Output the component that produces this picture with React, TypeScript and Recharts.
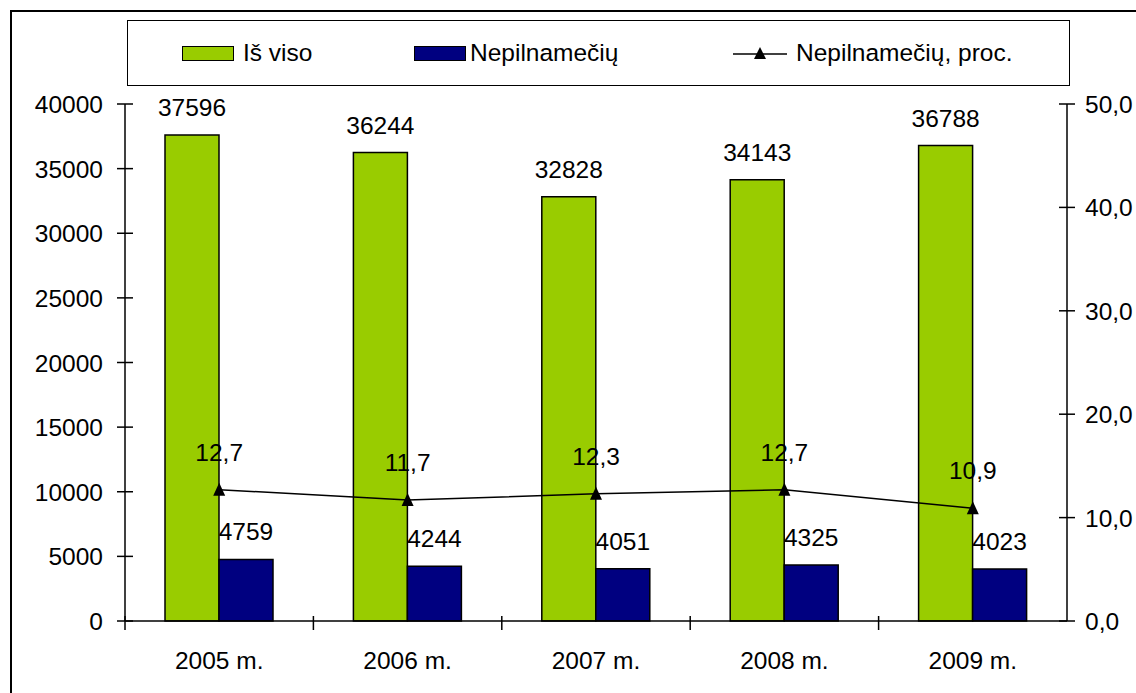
import { Bar, ComposedChart, LabelList, Legend, Line, XAxis, YAxis } from "recharts";

const years = ["2005 m.", "2006 m.", "2007 m.", "2008 m.", "2009 m."];
const totalCases = [37596, 36244, 32828, 34143, 36788];
const minorCases = [4759, 4244, 4051, 4325, 4023];
const minorPercent = [12.7, 11.7, 12.3, 12.7, 10.9];
const leftTicks = [0, 5000, 10000, 15000, 20000, 25000, 30000, 35000, 40000];
const rightTicks = [0, 10, 20, 30, 40, 50];

const data = years.map((year, i) => ({
  year,
  total: totalCases[i],
  minor: minorCases[i],
  pct: minorPercent[i],
}));

const FONT = "'Liberation Sans', Arial, sans-serif";
const FS = 24.5;
const comma = (v: number) => v.toFixed(1).replace(".", ",");

function LeftTick(props: any) {
  const { x, y, payload } = props;
  return (
    <g>
      <line x1={x - 8} x2={x + 8} y1={y} y2={y} stroke="#000" strokeWidth={1.5} />
      <text x={x - 22} y={y} dy={9} textAnchor="end" fontSize={FS} fontFamily={FONT} fill="#000">
        {payload.value}
      </text>
    </g>
  );
}

function RightTick(props: any) {
  const { x, y, payload } = props;
  return (
    <g>
      <line x1={x - 8} x2={x + 8} y1={y} y2={y} stroke="#000" strokeWidth={1.5} />
      <text x={x + 18} y={y} dy={9} textAnchor="start" fontSize={FS} fontFamily={FONT} fill="#000">
        {comma(payload.value)}
      </text>
    </g>
  );
}

function XTick(props: any) {
  const { x, y, payload } = props;
  const half = payload.offset || 94;
  return (
    <g>
      <line x1={x - half} x2={x - half} y1={y - 7} y2={y + 7} stroke="#000" strokeWidth={1.5} />
      <text x={x} y={y + 46} textAnchor="middle" fontSize={FS} fontFamily={FONT} fill="#000">
        {payload.value}
      </text>
    </g>
  );
}

function Triangle(props: any) {
  const { cx, cy } = props;
  if (cx == null || cy == null) return null;
  return <path d={`M${cx},${cy - 7} L${cx + 6},${cy + 6} L${cx - 6},${cy + 6} Z`} fill="#000" />;
}

function BarValue(props: any) {
  const { x, y, width, value } = props;
  return (
    <text x={x + width / 2} y={y - 19} textAnchor="middle" fontSize={FS} fontFamily={FONT} fill="#000">
      {value}
    </text>
  );
}

function PctValue(props: any) {
  const { x, y, value } = props;
  return (
    <text x={x} y={y - 29} textAnchor="middle" fontSize={FS} fontFamily={FONT} fill="#000">
      {comma(value)}
    </text>
  );
}

function LegendBox() {
  const item = { display: "flex", alignItems: "center", position: "absolute" as const, top: 0, height: "100%" };
  const text = { fontSize: FS, fontFamily: FONT, color: "#000", marginLeft: 9, lineHeight: 1 };
  return (
    <div style={{ position: "relative", width: "100%", height: "100%", border: "1.5px solid #000", boxSizing: "border-box", background: "#fff" }}>
      <div style={{ ...item, left: 54 }}>
        <span style={{ width: 52, height: 15, background: "#99CC00", border: "1.5px solid #000", boxSizing: "border-box" }} />
        <span style={text}>Iš viso</span>
      </div>
      <div style={{ ...item, left: 286 }}>
        <span style={{ width: 52, height: 15, background: "#000080", border: "1.5px solid #000", boxSizing: "border-box" }} />
        <span style={{ ...text, marginLeft: 4 }}>Nepilnamečių</span>
      </div>
      <div style={{ ...item, left: 605 }}>
        <svg width={54} height={16}>
          <line x1={0} x2={54} y1={9} y2={9} stroke="#000" strokeWidth={1.5} />
          <path d="M27,2 L33,14 L21,14 Z" fill="#000" />
        </svg>
        <span style={text}>Nepilnamečių, proc.</span>
      </div>
    </div>
  );
}

export default function App() {
  return (
    <div style={{ position: "fixed", left: 0, top: 0, width: 1136, height: 693, background: "#fff", overflow: "hidden" }}>
      <div style={{ position: "absolute", left: 10, top: 10, width: 1200, height: 800, border: "2px solid #000" }} />
      <div style={{ position: "absolute", left: 0, top: 0 }}>
        <ComposedChart
          width={1136}
          height={693}
          data={data}
          margin={{ top: 104, right: 0, bottom: 0, left: 0 }}
          barGap={0}
        >
          <XAxis
            dataKey="year"
            height={72}
            tickSize={0}
            tick={<XTick />}
            axisLine={{ stroke: "#000", strokeWidth: 1.5 }}
            interval={0}
          />
          <YAxis
            yAxisId="left"
            width={125}
            domain={[0, 40000]}
            ticks={leftTicks}
            tickSize={0}
            tickMargin={0}
            tickLine={false}
            tick={<LeftTick />}
            axisLine={{ stroke: "#000", strokeWidth: 1.5 }}
            interval={0}
          />
          <YAxis
            yAxisId="right"
            orientation="right"
            width={69}
            domain={[0, 50]}
            ticks={rightTicks}
            tickSize={0}
            tickMargin={0}
            tickLine={false}
            tick={<RightTick />}
            axisLine={{ stroke: "#000", strokeWidth: 1.5 }}
            interval={0}
          />
          <Legend
            layout="horizontal"
            align="center"
            verticalAlign="middle"
            content={<LegendBox />}
            wrapperStyle={{ left: 127, top: 20, width: 943, height: 66 }}
          />
          <Bar yAxisId="left" dataKey="total" name="Iš viso" fill="#99CC00" stroke="#000" strokeWidth={1.5} barSize={54} isAnimationActive={false}>
            <LabelList dataKey="total" content={<BarValue />} />
          </Bar>
          <Bar yAxisId="left" dataKey="minor" name="Nepilnamečių" fill="#000080" stroke="#000" strokeWidth={1.5} barSize={54} isAnimationActive={false}>
            <LabelList dataKey="minor" content={<BarValue />} />
          </Bar>
          <Line
            yAxisId="right"
            dataKey="pct"
            name="Nepilnamečių, proc."
            stroke="#000"
            strokeWidth={1.5}
            dot={<Triangle />}
            activeDot={false}
            isAnimationActive={false}
          >
            <LabelList dataKey="pct" content={<PctValue />} />
          </Line>
        </ComposedChart>
      </div>
    </div>
  );
}
